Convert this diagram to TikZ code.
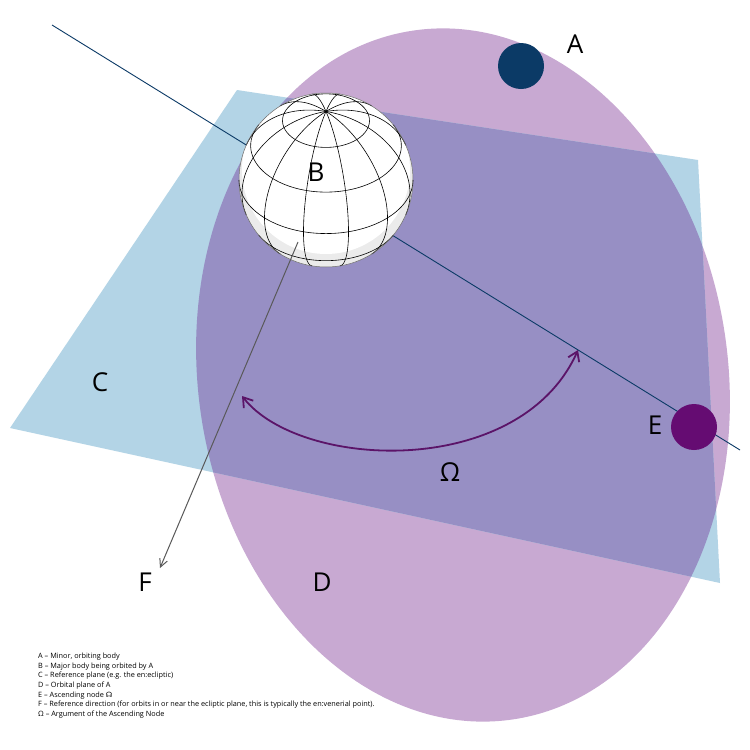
\documentclass[tikz,border=0pt]{standalone}
\usepackage{fontspec}
\setmainfont{Open Sans}
\newfontfamily\djv{DejaVu Sans}
\usetikzlibrary{arrows.meta}
\definecolor{pinkp}{HTML}{C8A9D2}
\definecolor{bluep}{HTML}{B3D4E6}
\definecolor{overp}{HTML}{978FC4}
\definecolor{navy}{HTML}{0B3A66}
\definecolor{plum}{HTML}{650C72}
\definecolor{arcc}{HTML}{5B1468}
\begin{document}
\begin{tikzpicture}[x=1pt,y=-1pt,
  lbl/.style={font=\fontsize{26}{28}\selectfont},
  grid/.style={black,line width=0.6pt}]
\useasboundingbox (0,0) rectangle (750,750);
\fill[white] (0,0) rectangle (750,750);
\def\ell{(463,375) ellipse [x radius=265,y radius=348,rotate=8]}
\def\pl{(237,90) -- (698,160) -- (720,583) -- (10,428) -- cycle}
\fill[pinkp] \ell;
\fill[bluep] \pl;
\begin{scope}\clip \ell; \fill[overp] \pl; \end{scope}
\draw[navy,line width=0.9pt] (52,25) -- (740,450);
% globe
\coordinate (G) at (326,180);
\fill[white] (G) circle (87);
\fill[black!8] (G) circle (87);
\begin{scope}\clip (G) circle (87);
\fill[white] (326,170) circle (84);
\end{scope}
\def\R{87}\def\t{38}
\foreach \p in {60,30,0,-30}{
  \pgfmathsetmacro\rhs{-tan(\p)*tan(\t)}
  \pgfmathsetmacro\rr{max(-1,min(1,\rhs))}
  \pgfmathsetmacro\lz{acos(\rr)}
  \draw[grid] plot[domain=-\lz:\lz,samples=60,smooth] ({326+\R*cos(\p)*sin(\x)},{180-\R*(sin(\p)*cos(\t)-cos(\p)*cos(\x)*sin(\t))});
}
\foreach \l in {15,45,...,345}{
  \pgfmathsetmacro\pz{atan(-cos(\l)/tan(\t))}
  \draw[grid] plot[domain=\pz:90,samples=40,smooth] ({326+\R*cos(\x)*sin(\l)},{180-\R*(sin(\x)*cos(\t)-cos(\x)*cos(\l)*sin(\t))});
}
\draw[black!60,line width=0.5pt] (G) circle (87);
\node[lbl] (B) at (316,172) {B};
% bodies
\node[circle,fill=navy,minimum size=46pt,inner sep=0] (Abody) at (521,66) {};
\node[lbl] (A) at (575,44) {A};
\node[circle,fill=plum,minimum size=46pt,inner sep=0] (Ebody) at (694,427) {};
\node[lbl] (E) at (655,425) {E};
\node[lbl] (C) at (100,382) {C};
\node[lbl] (D) at (322,582) {D};
\node[lbl] (F) at (145,582) {F};
\coordinate (F0) at (298,242);
\coordinate (F1) at (160,568);
\draw[black!65,line width=1pt,-{Straight Barb[length=8pt,width=8pt]}] (F0) -- (F1);
\coordinate (O1) at (242,396);
\coordinate (O2) at (578,350);
\draw[arcc,line width=1.8pt,{Straight Barb[length=9pt,width=12pt]}-{Straight Barb[length=9pt,width=12pt]}] (O1) .. controls (300,470) and (520,480) .. (O2);
\node[lbl] (Om) at (450,472) {Ω};
\node[anchor=north west,align=left,font=\fontsize{7.3}{9.6}\selectfont,inner sep=0] (leg) at (38,653) {A – Minor, orbiting body\\
B – Major body being orbited by A\\
C – Reference plane (e.g. the en:ecliptic)\\
D – Orbital plane of A\\
E – Ascending node {\djv ☊}\\
F – Reference direction (for orbits in or near the ecliptic plane, this is typically the en:venerial point).\\
Ω – Argument of the Ascending Node};
\end{tikzpicture}
\end{document}
